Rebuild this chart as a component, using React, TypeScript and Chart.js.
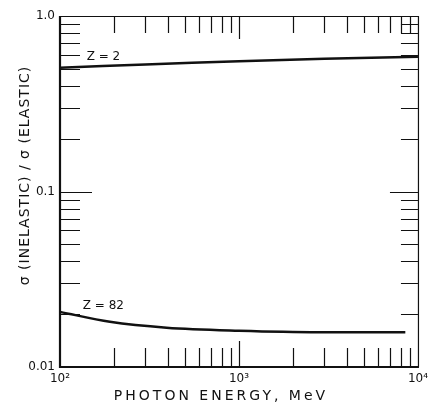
import React, { useEffect, useRef } from "react";
import { Chart, registerables } from "chart.js";

Chart.register(...registerables);

const energyZ2 = [100, 300, 1000, 3000, 10000];
const ratioZ2 = [0.507, 0.53, 0.552, 0.57, 0.586];

const energyZ82 = [100, 190, 394, 1000, 2810, 8500];
const ratioZ82 = [0.0206, 0.0181, 0.01675, 0.0161, 0.0158, 0.0158];

const xMajorTicks = [100, 1000, 10000];
const xTickLabels = ["10²", "10³", "10⁴"];
const yMajorTicks = [0.01, 0.1, 1];
const yTickLabels = ["0.01", "0.1", "1.0"];

const xMinorTicks = [200, 300, 400, 500, 600, 700, 800, 900, 2000, 3000, 4000, 5000, 6000, 7000, 8000, 9000];
const yMinorTicks = [0.02, 0.03, 0.04, 0.05, 0.06, 0.07, 0.08, 0.09, 0.2, 0.3, 0.4, 0.5, 0.6, 0.7, 0.8, 0.9];

const curveLabels = ["Z = 2", "Z = 82"];
const curveLabelX = [141, 134];
const curveLabelY = [0.561, 0.0214];

const xTitle = "PHOTON ENERGY, MeV";
const yTitle = "σ (INELASTIC) / σ (ELASTIC)";

const FONT = "'DejaVu Sans', 'Liberation Sans', sans-serif";

const framePlugin = {
  id: "frameTicks",
  afterDraw(chart: any) {
    const ctx = chart.ctx;
    const { left, right, top, bottom } = chart.chartArea;
    const xs = chart.scales.x;
    const ys = chart.scales.y;
    ctx.save();
    ctx.strokeStyle = "#111";
    // frame
    ctx.lineWidth = 1.2;
    ctx.beginPath();
    ctx.moveTo(left, top + 0.5);
    ctx.lineTo(right + 0.5, top + 0.5);
    ctx.lineTo(right + 0.5, bottom);
    ctx.stroke();
    ctx.lineWidth = 2.2;
    ctx.beginPath();
    ctx.moveTo(left, top);
    ctx.lineTo(left, bottom);
    ctx.lineTo(right + 1, bottom);
    ctx.stroke();
    // ticks
    ctx.lineWidth = 1.2;
    const xt = (vals: number[], lb: number, lt: number) => {
      vals.forEach((v) => {
        if (v <= 100 || v >= 10000) return;
        const p = Math.round(xs.getPixelForValue(v)) + 0.5;
        ctx.beginPath();
        ctx.moveTo(p, bottom);
        ctx.lineTo(p, bottom - lb);
        ctx.moveTo(p, top);
        ctx.lineTo(p, top + lt);
        ctx.stroke();
      });
    };
    xt(xMinorTicks, 19, 17);
    xt(xMajorTicks, 26, 23);
    const yt = (vals: number[], ll: number, lr: number) => {
      vals.forEach((v) => {
        if (v <= 0.01 || v >= 1) return;
        const p = Math.round(ys.getPixelForValue(v)) + 0.5;
        ctx.beginPath();
        ctx.moveTo(left, p);
        ctx.lineTo(left + ll, p);
        ctx.moveTo(right, p);
        ctx.lineTo(right - lr, p);
        ctx.stroke();
      });
    };
    yt(yMinorTicks, 20, 17);
    yt(yMajorTicks, 32, 28);

    // curve labels
    ctx.fillStyle = "#111";
    ctx.font = `12px ${FONT}`;
    ctx.textAlign = "left";
    ctx.textBaseline = "alphabetic";
    curveLabels.forEach((t, i) => {
      ctx.fillText(t, xs.getPixelForValue(curveLabelX[i]), ys.getPixelForValue(curveLabelY[i]));
    });

    // axis titles
    ctx.font = `14px ${FONT}`;
    (ctx as any).letterSpacing = "3px";
    ctx.textAlign = "center";
    ctx.textBaseline = "middle";
    ctx.fillText(xTitle, (left + right) / 2 - 18, bottom + 29);
    (ctx as any).letterSpacing = "1px";
    ctx.translate(25, (top + bottom) / 2 - 16);
    ctx.rotate(-Math.PI / 2);
    ctx.fillText(yTitle, 0, 0);
    ctx.restore();
  },
};

export default function App() {
  const ref = useRef<HTMLCanvasElement | null>(null);
  useEffect(() => {
    if (!ref.current) return;
    const chart = new Chart(ref.current, {
      type: "line",
      data: {
        datasets: [
          {
            label: curveLabels[0],
            data: energyZ2.map((x, i) => ({ x, y: ratioZ2[i] })),
            borderColor: "#111",
            borderWidth: 2.5,
            pointRadius: 0,
            tension: 0.4,
            fill: false,
          },
          {
            label: curveLabels[1],
            data: energyZ82.map((x, i) => ({ x, y: ratioZ82[i] })),
            borderColor: "#111",
            borderWidth: 2.5,
            pointRadius: 0,
            tension: 0.4,
            cubicInterpolationMode: "monotone",
            fill: false,
          },
        ],
      },
      options: {
        animation: false,
        responsive: false,
        layout: { padding: { top: 16, right: 14, left: 0, bottom: 0 } },
        plugins: { legend: { display: false }, tooltip: { enabled: false }, title: { display: false } },
        scales: {
          x: {
            type: "logarithmic",
            min: 100,
            max: 10000,
            grid: { display: false, drawTicks: false },
            border: { display: false },
            afterBuildTicks: (s: any) => {
              s.ticks = xMajorTicks.map((v) => ({ value: v, major: true }));
            },
            afterFit: (s: any) => {
              s.height = 37;
            },
            ticks: {
              autoSkip: false,
              maxRotation: 0,
              padding: 5,
              color: "#111",
              font: { family: FONT, size: 12 },
              callback: (v: any) => {
                const i = xMajorTicks.indexOf(Number(v));
                return i >= 0 ? xTickLabels[i] : "";
              },
            },
          },
          y: {
            type: "logarithmic",
            min: 0.01,
            max: 1,
            grid: { display: false, drawTicks: false },
            border: { display: false },
            afterBuildTicks: (s: any) => {
              s.ticks = yMajorTicks.map((v) => ({ value: v, major: true }));
            },
            afterFit: (s: any) => {
              s.width = 60;
            },
            ticks: {
              autoSkip: false,
              padding: 5,
              color: "#111",
              font: { family: FONT, size: 12 },
              callback: (v: any) => {
                const i = yMajorTicks.findIndex((m) => Math.abs(m - Number(v)) < 1e-9);
                return i >= 0 ? yTickLabels[i] : "";
              },
            },
          },
        },
      },
      plugins: [framePlugin],
    } as any);
    return () => chart.destroy();
  }, []);
  return (
    <div style={{ position: "absolute", left: 0, top: 0, width: 433, height: 404, background: "#fff" }}>
      <canvas ref={ref} width={433} height={404} style={{ width: 433, height: 404 }} />
    </div>
  );
}
